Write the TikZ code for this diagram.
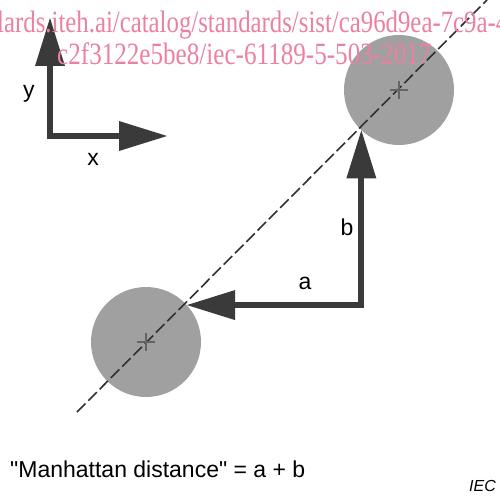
\documentclass[tikz,border=0pt]{standalone}
\usepackage{fontspec}
\setmainfont{Liberation Sans}
\newfontfamily\plainsans{Liberation Sans}
\newfontfamily\markfont{Liberation Serif}
\usepackage{tikz}
\usetikzlibrary{arrows.meta}

\begin{document}
\begin{tikzpicture}[
  x=1pt, y=-1pt,
  font=\fontsize{23}{27}\selectfont,
  >={Triangle[length=48pt,width=30pt,line width=0pt]},
  thickarrow/.style={<->, draw=adark, line width=6pt, line join=miter},
  blob/.style={circle, fill=cgray, minimum size=110pt, inner sep=0pt},
  centreline/.style={draw=ldark, line width=1.6pt, dash pattern=on 12pt off 4pt},
  crossmark/.style={draw=ldark!75, line width=1.5pt},
  lbl/.style={anchor=base, inner sep=0pt},
  watermark/.style={anchor=base west, inner sep=0pt, text=wmpink,
    font=\markfont\fontsize{31}{31}\selectfont}
]
\definecolor{adark}{HTML}{3A3A3A}
\definecolor{ldark}{HTML}{303030}
\definecolor{cgray}{HTML}{A0A0A0}
\definecolor{wmpink}{RGB}{236,128,160}

\clip (0,0) rectangle (499,500);
\useasboundingbox (0,0) rectangle (499,500);

% axes
\coordinate (origin) at (50,136);
\coordinate (ytip) at (50,18);
\coordinate (xtip) at (167,136);
\draw[thickarrow] (ytip) -- (origin) -- (xtip);
\node[lbl] (ylab) at (29,98) {y};
\node[lbl] (xlab) at (93,165) {x};

% the two spots
\node[blob] (lower) at (146,342) {};
\node[blob] (upper) at (399,90) {};

\coordinate (lineend) at (77,412);
\coordinate (linetop) at (487,0);
\draw[centreline] (lineend) -- (linetop);

\draw[crossmark] (lower.center) +(-9,0) -- +(9,0) +(0,-9) -- +(0,9);
\draw[crossmark] (upper.center) +(-9,0) -- +(9,0) +(0,-9) -- +(0,9);

% the two legs
\draw[thickarrow] (lower.42) -| (upper.227.7);
\node[lbl] (blab) at (347,235) {b};
\node[lbl] (alab) at (305,289) {a};

\node[anchor=base west, inner sep=0pt, font=\plainsans\fontsize{23}{27}\selectfont]
  (caption) at (10,477) {"Manhattan distance" = a + b};
\node[anchor=base east, inner sep=0pt, font=\fontsize{16}{19}\selectfont\itshape]
  (iec) at (496,491) {IEC};

\node[watermark] (mark1) at (-3,33)
  {\scalebox{0.8}[1]{lards.iteh.ai/catalog/standards/sist/ca96d9ea-7c9a-4}};
\node[watermark] (mark2) at (57,65)
  {\scalebox{0.81}[1]{c2f3122e5be8/iec-61189-5-503-2017}};
\end{tikzpicture}
\end{document}
